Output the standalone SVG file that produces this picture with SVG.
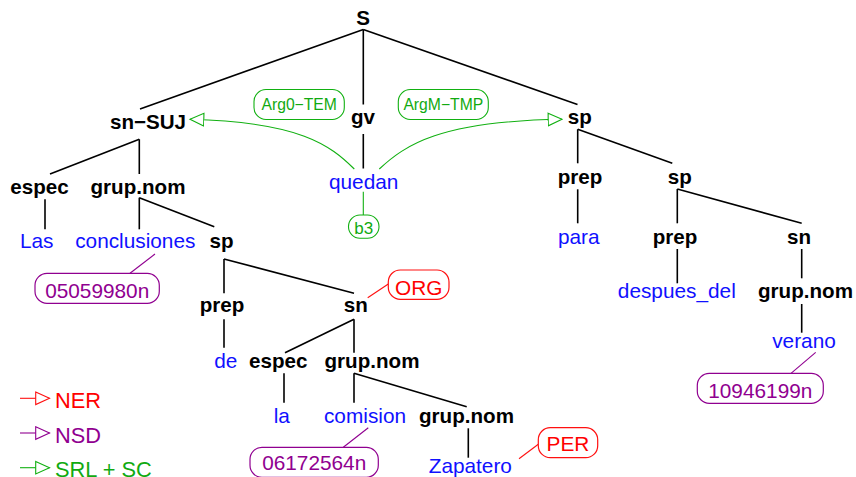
<svg xmlns="http://www.w3.org/2000/svg" width="856" height="477" viewBox="0 0 856 477">
<defs>
<style>
text{font-family:"Liberation Sans",Arial,Helvetica,sans-serif;text-anchor:middle}
.c{font-weight:bold;font-size:20.6px;fill:#000}
.w{font-size:20.8px;fill:#1010ff}
.t{stroke:#000;stroke-width:1.6;fill:none}
.g{stroke:#11b011;stroke-width:1.1;fill:none}
.gt{fill:#11aa11;font-size:15.7px}
.gb{fill:#fff;stroke:#11b011;stroke-width:1.1}
.p{stroke:#900090;stroke-width:1.1;fill:none}
.pb{fill:#fff;stroke:#900090;stroke-width:1.2}
.pt{fill:#900090;font-size:20.8px}
.r{stroke:#ff1010;stroke-width:1.1;fill:none}
.rb{fill:#fff;stroke:#ff1010;stroke-width:1.2}
.rt{fill:#ff0000;font-size:20.8px}
.lg{font-size:21.8px;text-anchor:start}
</style>
<marker id="ag" markerUnits="userSpaceOnUse" markerWidth="16" markerHeight="15" refX="14.5" refY="7" orient="auto" viewBox="0 0 16 14">
<path d="M0.7,0.7 L14.5,7 L0.7,13.3 Z" fill="#fff" stroke="#11b011" stroke-width="1.1"/>
</marker>
<marker id="ar" markerUnits="userSpaceOnUse" markerWidth="16" markerHeight="15" refX="14.5" refY="7" orient="auto" viewBox="0 0 16 14">
<path d="M0.7,0.7 L14.5,7 L0.7,13.3 Z" fill="#fff" stroke="#ff1010" stroke-width="1.1"/>
</marker>
<marker id="ap" markerUnits="userSpaceOnUse" markerWidth="16" markerHeight="15" refX="14.5" refY="7" orient="auto" viewBox="0 0 16 14">
<path d="M0.7,0.7 L14.5,7 L0.7,13.3 Z" fill="#fff" stroke="#900090" stroke-width="1.1"/>
</marker>
</defs>
<rect width="856" height="477" fill="#fff"/>

<g id="connectors">
<g class="t">
<line x1="363.3" y1="29.5" x2="140" y2="109"/>
<line x1="363.3" y1="29.5" x2="363.3" y2="104.5"/>
<line x1="363.3" y1="29.5" x2="577.5" y2="104.5"/>
<line x1="363.3" y1="134" x2="363.3" y2="168.5"/>
<line x1="139.3" y1="139.3" x2="50" y2="174"/>
<line x1="139.3" y1="139.3" x2="139.3" y2="174"/>
<line x1="45" y1="199.3" x2="45" y2="229.3"/>
<line x1="139.3" y1="197.7" x2="139.3" y2="229.3"/>
<line x1="139.3" y1="197.7" x2="214.3" y2="226.7"/>
<line x1="224" y1="259" x2="224" y2="293.3"/>
<line x1="224" y1="259" x2="354" y2="293.3"/>
<line x1="224" y1="319.3" x2="224" y2="347.7"/>
<line x1="354" y1="319.3" x2="285" y2="352.7"/>
<line x1="354" y1="319.3" x2="354" y2="352.7"/>
<line x1="284" y1="373.3" x2="284" y2="402.7"/>
<line x1="354" y1="373.3" x2="354" y2="402.7"/>
<line x1="354" y1="373.3" x2="466.7" y2="406.7"/>
<line x1="468.3" y1="428.3" x2="468.3" y2="457.7"/>
<line x1="577.7" y1="129.3" x2="577.7" y2="163.3"/>
<line x1="577.7" y1="129.3" x2="672.3" y2="163.3"/>
<line x1="577.7" y1="189.3" x2="577.7" y2="223.3"/>
<line x1="677.3" y1="189" x2="677.3" y2="223.3"/>
<line x1="677.3" y1="189" x2="801.7" y2="223.3"/>
<line x1="677.3" y1="249" x2="677.3" y2="283.3"/>
<line x1="801.7" y1="249" x2="801.7" y2="278.3"/>
<line x1="801.7" y1="304" x2="801.7" y2="332.7"/>
</g>
<path class="g" d="M354.3,169 C330,145 300,122 190,119.3" marker-end="url(#ag)"/>
<path class="g" d="M379.3,169 C405,145 440,121 562,119.3" marker-end="url(#ag)"/>
<line class="g" x1="363.3" y1="191.7" x2="363.3" y2="215"/>
<line class="p" x1="155" y1="254" x2="130" y2="273.3"/>
<line class="p" x1="368.3" y1="427.7" x2="343.3" y2="447.3"/>
<line class="p" x1="815.7" y1="352.3" x2="791" y2="373.3"/>
<line class="r" x1="367.7" y1="297.7" x2="388.3" y2="284"/>
<line class="r" x1="519" y1="458.7" x2="538.3" y2="444.3"/>
</g>

<g id="n-S"><text class="c" x="363" y="25">S</text></g>
<g id="n-snSUJ"><text class="c" x="148" y="129">sn−SUJ</text></g>
<g id="n-gv"><text class="c" x="363" y="124">gv</text></g>
<g id="n-sp1"><text class="c" x="579.7" y="124">sp</text></g>
<g id="n-espec1"><text class="c" x="39.5" y="194">espec</text></g>
<g id="n-grupnom1"><text class="c" x="138" y="194">grup.nom</text></g>
<g id="n-Las"><text class="w" x="36.7" y="248">Las</text></g>
<g id="n-conclusiones"><text class="w" x="135.3" y="248">conclusiones</text></g>
<g id="n-sp2"><text class="c" x="221.5" y="248">sp</text></g>
<g id="n-prep1"><text class="c" x="222" y="312">prep</text></g>
<g id="n-sn1"><text class="c" x="355.7" y="312">sn</text></g>
<g id="n-de"><text class="w" x="225.8" y="368">de</text></g>
<g id="n-espec2"><text class="c" x="278.3" y="368">espec</text></g>
<g id="n-grupnom2"><text class="c" x="372" y="368">grup.nom</text></g>
<g id="n-la"><text class="w" x="281.8" y="423">la</text></g>
<g id="n-comision"><text class="w" x="365" y="423">comision</text></g>
<g id="n-grupnom3"><text class="c" x="466.5" y="423">grup.nom</text></g>
<g id="n-Zapatero"><text class="w" x="470.3" y="473">Zapatero</text></g>
<g id="n-quedan"><text class="w" x="363.7" y="188.5">quedan</text></g>
<g id="n-prep2"><text class="c" x="580" y="184">prep</text></g>
<g id="n-sp3"><text class="c" x="679.7" y="184">sp</text></g>
<g id="n-para"><text class="w" x="578.7" y="244">para</text></g>
<g id="n-prep3"><text class="c" x="675" y="244">prep</text></g>
<g id="n-sn2"><text class="c" x="799" y="244">sn</text></g>
<g id="n-despues"><text class="w" x="676.8" y="298">despues_del</text></g>
<g id="n-grupnom4"><text class="c" x="805.5" y="298">grup.nom</text></g>
<g id="n-verano"><text class="w" x="804" y="347.5">verano</text></g>

<g id="l-arg0"><rect class="gb" x="254" y="89.5" width="90.3" height="30" rx="12"/><text class="gt" x="299.2" y="109.8">Arg0−TEM</text></g>
<g id="l-argm"><rect class="gb" x="398.3" y="89.5" width="90" height="30" rx="12"/><text class="gt" x="443.3" y="109.8">ArgM−TMP</text></g>
<g id="l-b3"><rect class="gb" x="348.5" y="215" width="30.5" height="23.3" rx="11.5"/><text x="363.8" y="234" style="fill:#11aa11;font-size:17px">b3</text></g>
<g id="l-05059980n"><rect class="pb" x="35" y="273.3" width="124.3" height="30" rx="12"/><text class="pt" x="97.2" y="298">05059980n</text></g>
<g id="l-ORG"><rect class="rb" x="388.3" y="270" width="60.7" height="29.3" rx="12"/><text class="rt" x="418.7" y="295">ORG</text></g>
<g id="l-06172564n"><rect class="pb" x="250" y="447.3" width="128.3" height="30" rx="12"/><text class="pt" x="314.2" y="470">06172564n</text></g>
<g id="l-PER"><rect class="rb" x="538.3" y="427.7" width="59.4" height="30" rx="12"/><text class="rt" x="568" y="451">PER</text></g>
<g id="l-10946199n"><rect class="pb" x="697.3" y="373.3" width="126" height="30" rx="12"/><text class="pt" x="760.3" y="397.5">10946199n</text></g>

<g id="legend">
<line class="r" x1="20" y1="398.3" x2="49.5" y2="398.3" marker-end="url(#ar)"/>
<text class="lg" x="55" y="407.7" style="fill:#ff0000">NER</text>
<line class="p" x1="20" y1="433" x2="49.5" y2="433" marker-end="url(#ap)"/>
<text class="lg" x="55" y="442.7" style="fill:#900090">NSD</text>
<line class="g" x1="20" y1="467.7" x2="49.5" y2="467.7" marker-end="url(#ag)"/>
<text class="lg" x="55" y="477" style="fill:#11aa11">SRL + SC</text>
</g>
</svg>
